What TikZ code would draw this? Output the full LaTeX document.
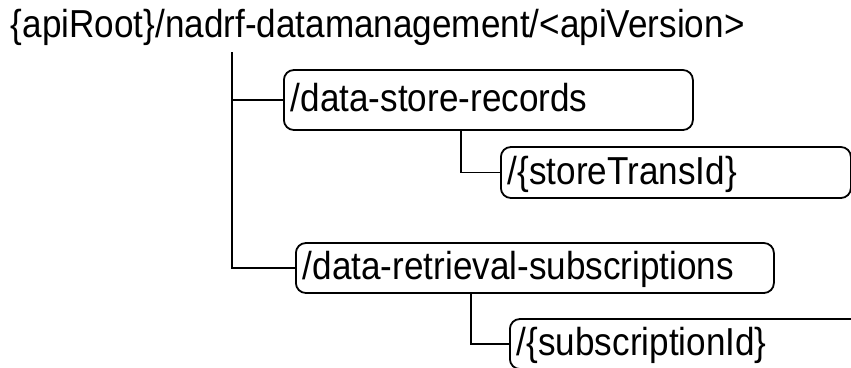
\documentclass[tikz,border=0pt]{standalone}
\usepackage{fontspec}
\setmainfont{Liberation Sans}[FakeStretch=0.9]
\begin{document}
\begin{tikzpicture}[x=1pt,y=-1pt,line width=1.8pt,
  every node/.style={font=\fontsize{39}{45}\selectfont},
  res/.style={draw,rounded corners=10pt,anchor=west,align=left,
    inner xsep=7pt,inner ysep=0pt,text height=23.5pt,text depth=0pt}]
\useasboundingbox (0,0) rectangle (851,367);
\clip (0,0) rectangle (851,367);
\node[anchor=base west,inner sep=0pt] (root) at (10,37) {\{apiRoot\}/nadrf-datamanagement/<apiVersion>};
\coordinate (trunk) at (232,52);
\node[res,text width=395pt,minimum height=60pt] (records) at (283,100) {/data-store-records};
\node[res,text width=336pt,minimum height=51pt] (storeid) at (500,172.5) {/\{storeTransId\}};
\node[res,text width=464pt,minimum height=50pt] (subs) at (295,268) {/data-retrieval-subscriptions};
\node[res,text width=366pt,minimum height=50pt] (subid) at (509,344) {/\{subscriptionId\}};
\draw (trunk) |- (records.west);
\draw (trunk) |- (subs.west);
\draw ([xshift=178pt]records.south west) |- (storeid.west);
\draw ([xshift=176pt]subs.south west) |- (subid.west);
\end{tikzpicture}
\end{document}
